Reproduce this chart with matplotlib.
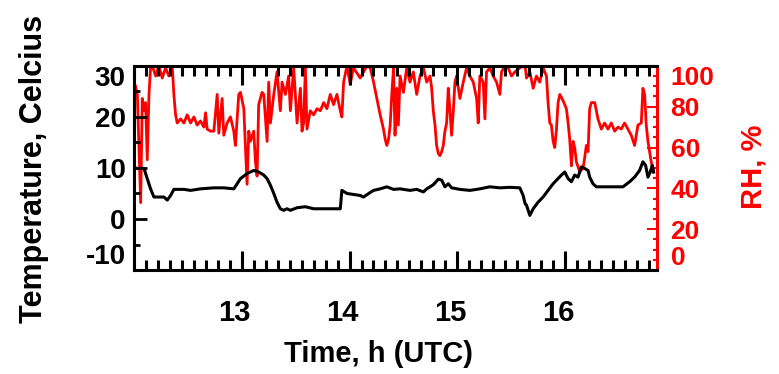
import matplotlib.pyplot as plt
from matplotlib.ticker import FixedLocator, MultipleLocator
from matplotlib.transforms import ScaledTranslation

plt.rcParams['font.family'] = 'Liberation Sans'
plt.rcParams['font.weight'] = 'bold'
plt.rcParams['axes.unicode_minus'] = False

# Air temperature, deg C, vs time in decimal hours (UTC)
time_temp = [12.015, 12.031, 12.093, 12.123, 12.154, 12.185, 12.278, 12.309, 12.340, 12.370,
             12.463, 12.525, 12.617, 12.741, 12.833, 12.926, 12.957, 12.988, 13.049, 13.080,
             13.111, 13.157, 13.204, 13.235, 13.266, 13.297, 13.327, 13.358, 13.389, 13.420,
             13.451, 13.513, 13.590, 13.667, 13.760, 13.914, 13.929, 13.976, 14.099, 14.130,
             14.192, 14.223, 14.284, 14.346, 14.408, 14.469, 14.561, 14.623, 14.685, 14.716,
             14.777, 14.824, 14.855, 14.885, 14.916, 14.947, 15.024, 15.117, 15.209, 15.302,
             15.395, 15.487, 15.580, 15.611, 15.629, 15.642, 15.673, 15.704, 15.750, 15.796,
             15.842, 15.889, 15.920, 15.966, 15.997, 16.028, 16.059, 16.089, 16.120, 16.151,
             16.182, 16.213, 16.228, 16.259, 16.290, 16.383, 16.537, 16.599, 16.645, 16.691,
             16.722, 16.747, 16.769, 16.790, 16.809, 16.821]
temp = [10.0, 9.9, 9.9, 7.9, 5.9, 4.3, 4.3, 3.7, 4.6, 5.8,
        5.8, 5.6, 5.9, 6.1, 6.1, 5.9, 6.9, 7.9, 8.9, 9.2,
        9.5, 9.2, 8.6, 7.9, 6.6, 5.0, 3.3, 2.0, 1.7, 2.0,
        1.7, 2.2, 2.4, 2.0, 2.0, 2.0, 5.6, 5.0, 4.6, 4.3,
        5.2, 5.6, 5.9, 6.3, 5.8, 5.9, 5.6, 5.8, 5.3, 5.9,
        6.7, 7.8, 7.6, 6.3, 6.9, 6.1, 5.8, 5.6, 5.9, 6.3,
        6.1, 6.2, 6.1, 4.6, 3.0, 2.7, 0.7, 2.0, 3.3, 4.3,
        5.6, 6.9, 7.6, 8.6, 9.2, 7.9, 7.3, 8.6, 8.2, 10.2,
        9.9, 9.5, 8.2, 6.9, 6.3, 6.3, 6.3, 7.3, 8.2, 9.5,
        11.2, 10.5, 8.2, 9.2, 10.5, 9.2]

# Relative humidity, %
time_rh = [12.015, 12.031, 12.046, 12.062, 12.077, 12.093, 12.108, 12.123, 12.139, 12.154,
           12.170, 12.201, 12.231, 12.262, 12.293, 12.324, 12.355, 12.370, 12.386, 12.401,
           12.432, 12.463, 12.494, 12.525, 12.556, 12.586, 12.617, 12.648, 12.664, 12.679,
           12.710, 12.741, 12.772, 12.787, 12.818, 12.833, 12.864, 12.895, 12.926, 12.941,
           12.972, 12.988, 13.019, 13.034, 13.049, 13.065, 13.080, 13.111, 13.127, 13.142,
           13.157, 13.188, 13.204, 13.235, 13.250, 13.266, 13.297, 13.327, 13.358, 13.374,
           13.405, 13.435, 13.451, 13.482, 13.513, 13.544, 13.559, 13.574, 13.590, 13.605,
           13.636, 13.667, 13.698, 13.729, 13.760, 13.790, 13.821, 13.852, 13.883, 13.914,
           13.929, 13.945, 13.976, 14.006, 14.037, 14.099, 14.161, 14.192, 14.223, 14.253,
           14.284, 14.315, 14.331, 14.346, 14.362, 14.377, 14.392, 14.408, 14.422, 14.438,
           14.453, 14.469, 14.500, 14.530, 14.561, 14.592, 14.623, 14.654, 14.685, 14.716,
           14.747, 14.762, 14.777, 14.793, 14.808, 14.824, 14.839, 14.855, 14.870, 14.885,
           14.901, 14.916, 14.932, 14.947, 14.963, 14.978, 14.993, 15.024, 15.055, 15.086,
           15.117, 15.148, 15.179, 15.194, 15.209, 15.240, 15.256, 15.271, 15.302, 15.333,
           15.364, 15.395, 15.410, 15.441, 15.472, 15.503, 15.534, 15.580, 15.629, 15.642,
           15.673, 15.704, 15.734, 15.765, 15.796, 15.827, 15.842, 15.858, 15.873, 15.889,
           15.904, 15.920, 15.935, 15.951, 15.981, 16.012, 16.028, 16.043, 16.059, 16.074,
           16.089, 16.105, 16.136, 16.167, 16.182, 16.197, 16.213, 16.228, 16.244, 16.275,
           16.305, 16.336, 16.367, 16.398, 16.429, 16.460, 16.491, 16.521, 16.552, 16.583,
           16.614, 16.645, 16.676, 16.707, 16.722, 16.738, 16.753, 16.769, 16.784, 16.799,
           16.821]
rh = [90, 86, 61, 33, 84, 78, 82, 54, 86, 99,
      100, 95, 100, 94, 99, 95, 100, 86, 76, 72,
      74, 72, 76, 72, 75, 71, 73, 70, 77, 69,
      68, 68, 86, 67, 84, 66, 72, 75, 68, 61,
      86, 87, 79, 60, 42, 68, 63, 68, 53, 46,
      81, 87, 86, 63, 92, 72, 86, 97, 78, 92,
      86, 95, 78, 99, 72, 89, 68, 72, 99, 69,
      78, 76, 79, 78, 82, 79, 86, 81, 86, 78,
      75, 92, 100, 91, 99, 94, 100, 99, 92, 84,
      76, 69, 64, 61, 64, 71, 86, 99, 66, 89,
      71, 95, 87, 99, 92, 97, 86, 95, 99, 92,
      95, 89, 78, 71, 61, 57, 56, 58, 61, 68,
      72, 89, 78, 66, 78, 92, 95, 84, 92, 99,
      95, 92, 84, 72, 95, 92, 74, 97, 99, 95,
      92, 86, 97, 100, 99, 95, 97, 99, 100, 94,
      97, 89, 95, 92, 99, 95, 82, 72, 71, 63,
      60, 69, 82, 86, 83, 79, 72, 64, 51, 63,
      60, 53, 48, 50, 55, 61, 58, 79, 82, 82,
      74, 69, 72, 69, 72, 68, 70, 69, 72, 69,
      66, 61, 71, 72, 89, 86, 71, 63, 58, 53,
      48]

hour_ticks = [13, 14, 15, 16]
temp_ticks = [-10, 0, 10, 20, 30]
rh_ticks = [0, 20, 40, 60, 80, 100]

fig = plt.figure(figsize=(7.79, 3.74), dpi=100)
ax = fig.add_axes([0.172, 0.278, 0.671, 0.546])
ax2 = ax.twinx()

ax2.plot(time_rh, rh, color='red', lw=2.0)
ax.plot(time_temp, temp, color='black', lw=2.2)

# temperature trace sits above the humidity trace
ax.set_zorder(ax2.get_zorder() + 1)
ax.patch.set_visible(False)

ax.set_xlim(12.0, 16.85)
ax.set_ylim(-10, 30)
ax2.set_ylim(0, 100)

ax.xaxis.set_major_locator(FixedLocator(hour_ticks))
ax.xaxis.set_minor_locator(MultipleLocator(1 / 9))
ax.yaxis.set_major_locator(FixedLocator(temp_ticks))
ax.yaxis.set_minor_locator(MultipleLocator(5))
ax2.yaxis.set_major_locator(FixedLocator(rh_ticks))
ax2.yaxis.set_minor_locator(MultipleLocator(5))

for s in ['left', 'top', 'bottom']:
    ax.spines[s].set_linewidth(2.2)
ax.spines['right'].set_visible(False)
for s in ['left', 'top', 'bottom']:
    ax2.spines[s].set_visible(False)
ax2.spines['right'].set_color('red')
ax2.spines['right'].set_linewidth(2.2)

ax.tick_params(axis='x', which='both', direction='in', top=True, bottom=True,
               width=2.2, labelsize=21, pad=21)
ax.tick_params(axis='x', which='major', length=14)
ax.tick_params(axis='x', which='minor', length=7)
ax.tick_params(axis='y', which='both', direction='in', left=True, right=False,
               width=2, labelsize=20, pad=6)
ax.tick_params(axis='y', which='major', length=9)
ax.tick_params(axis='y', which='minor', length=4)
ax2.tick_params(axis='y', which='both', direction='in', colors='red',
                width=1.5, labelsize=19, pad=10)
ax2.tick_params(axis='y', which='major', length=7)
ax2.tick_params(axis='y', which='minor', length=3)

# pull the end labels inside the frame
yt = ax.yaxis.get_major_ticks()
yt[0].label1.set_verticalalignment('bottom')
yt[-1].label1.set_verticalalignment('top')
rt = ax2.yaxis.get_major_ticks()
rt[0].label2.set_verticalalignment('bottom')
rt[-1].label2.set_verticalalignment('top')

shift = ScaledTranslation(-0.07, 0, fig.dpi_scale_trans)
for t in ax.xaxis.get_major_ticks():
    t.label1.set_transform(t.label1.get_transform() + shift)

fig.text(34 / 779, 1 - 169 / 374, 'Temperature, Celcius', rotation=90,
         ha='center', va='center', fontsize=22)
fig.text(378 / 779, 1 - 354 / 374, 'Time, h (UTC)', ha='center', va='center',
         fontsize=21)
fig.text(753 / 779, 1 - 167 / 374, 'RH, %', rotation=90, color='red',
         ha='center', va='center', fontsize=21)

fig.savefig('out.png', dpi=100)
